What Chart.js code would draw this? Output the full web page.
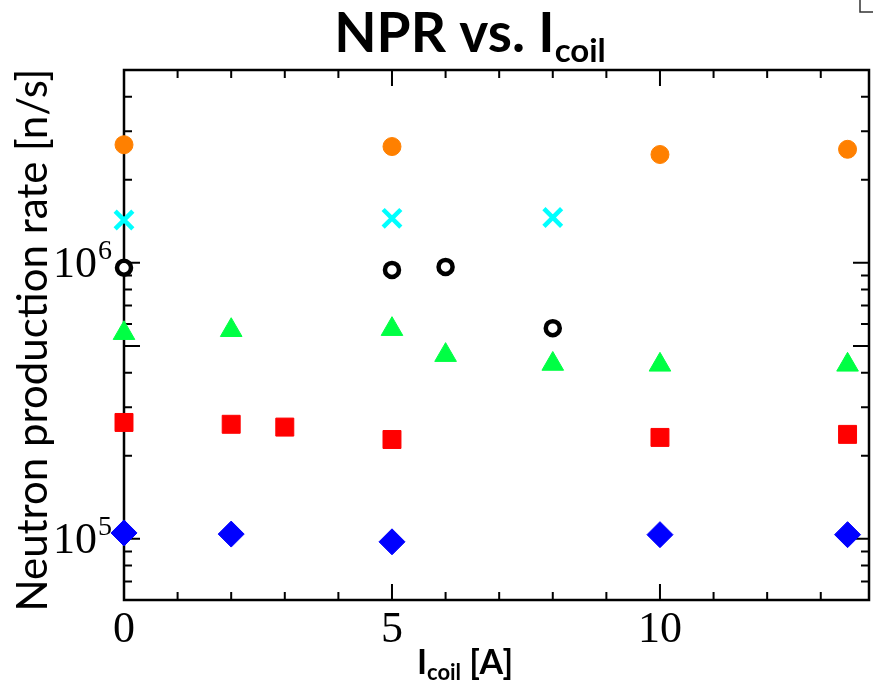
<!DOCTYPE html>
<html>
<head>
<meta charset="utf-8">
<title>NPR vs. Icoil</title>
<script src="https://cdn.jsdelivr.net/npm/chart.js@4.4.1/dist/chart.umd.min.js"></script>
<style>
    html, body { margin: 0; padding: 0; background: #fff; }
    canvas { display: block; }
</style>
</head>
<body>
<canvas id="npr" width="873" height="682"></canvas>
<script>
"use strict";

// coil current [A] and neutron production rate [n/s], one pair of arrays per series
const orangeX = [0, 5, 10, 13.5];
const orangeY = [2.68e6, 2.64e6, 2.47e6, 2.58e6];
const cyanX = [0, 5, 8];
const cyanY = [1.43e6, 1.45e6, 1.46e6];
const blackX = [0, 5, 6, 8];
const blackY = [0.96e6, 0.943e6, 0.967e6, 5.8e5];
const greenX = [0, 2, 5, 6, 8, 10, 13.5];
const greenY = [5.56e5, 5.70e5, 5.75e5, 4.63e5, 4.30e5, 4.27e5, 4.27e5];
const redX = [0, 2, 3, 5, 10, 13.5];
const redY = [2.64e5, 2.60e5, 2.54e5, 2.29e5, 2.33e5, 2.39e5];
const blueX = [0, 2, 5, 10, 13.5];
const blueY = [1.05e5, 1.04e5, 0.975e5, 1.035e5, 1.035e5];

// axis ranges and ticks
const xRange = [0, 13.9];
const yRange = [6e4, 5e6];
const xMajor = [0, 5, 10];
const xMinor = [1, 2, 3, 4, 6, 7, 8, 9, 11, 12, 13];
const xLabels = ["0", "5", "10"];
const yMajor = [1e5, 5e5, 1e6];
const yMinor = [7e4, 8e4, 9e4, 2e5, 3e5, 4e5, 6e5, 7e5, 8e5, 9e5, 2e6, 3e6, 4e6];
const yLabelValues = [1e5, 1e6];
const yLabelExp = ["5", "6"];

const SANS = "Lato, 'Noto Sans', sans-serif";
const SERIF = "'Liberation Serif', 'DejaVu Serif', serif";

function pairs(xs, ys) {
    return xs.map(function(x, i) { return { x: x, y: ys[i] }; });
}

function series(label, xs, ys, style) {
    return Object.assign({
        label: label,
        data: pairs(xs, ys),
        showLine: false,
        clip: false,
        pointBorderWidth: 1
    }, style);
}

// draws a string made of runs [text, font, dy] starting at x
function drawRuns(ctx, runs, x, y) {
    runs.forEach(function(r) {
        ctx.font = r[1];
        ctx.fillText(r[0], x, y + r[2]);
        x += ctx.measureText(r[0]).width;
    });
}

function runsWidth(ctx, runs) {
    let w = 0;
    runs.forEach(function(r) {
        ctx.font = r[1];
        w += ctx.measureText(r[0]).width;
    });
    return w;
}

const framePlugin = {
    id: "frame",
    beforeDatasetsDraw(chart) {
        const ctx = chart.ctx;
        const a = chart.chartArea;
        const xs = chart.scales.x;
        const ys = chart.scales.y;
        ctx.save();
        ctx.strokeStyle = "#000";
        ctx.lineWidth = 2;
        ctx.beginPath();
        function xt(v, len) {
            const px = xs.getPixelForValue(v);
            ctx.moveTo(px, a.bottom); ctx.lineTo(px, a.bottom - len);
            ctx.moveTo(px, a.top); ctx.lineTo(px, a.top + len);
        }
        function yt(v, len) {
            const py = ys.getPixelForValue(v);
            ctx.moveTo(a.left, py); ctx.lineTo(a.left + len, py);
            ctx.moveTo(a.right, py); ctx.lineTo(a.right - len, py);
        }
        xMajor.forEach(function(v) { xt(v, 16); });
        xMinor.forEach(function(v) { xt(v, 8); });
        yMajor.forEach(function(v) { yt(v, 16); });
        yMinor.forEach(function(v) { yt(v, 8); });
        ctx.stroke();
        ctx.lineWidth = 2.5;
        ctx.strokeRect(a.left, a.top, a.right - a.left, a.bottom - a.top);
        ctx.restore();
    },
    afterDraw(chart) {
        const ctx = chart.ctx;
        const xs = chart.scales.x;
        const ys = chart.scales.y;
        ctx.save();
        ctx.fillStyle = "#000";
        ctx.textBaseline = "alphabetic";

        // tick labels
        ctx.font = "44px " + SERIF;
        ctx.textAlign = "center";
        xMajor.forEach(function(v, i) {
            ctx.fillText(xLabels[i], xs.getPixelForValue(v), 642);
        });
        yLabelValues.forEach(function(v, i) {
            const py = ys.getPixelForValue(v);
            ctx.textAlign = "right";
            ctx.font = "44px " + SERIF;
            ctx.fillText("10", 97, py + 14);
            ctx.textAlign = "left";
            ctx.font = "28px " + SERIF;
            ctx.fillText(yLabelExp[i], 98, py - 4);
        });

        // title
        ctx.textAlign = "left";
        const title = [["NPR vs. I", "bold 55px " + SANS, 0], ["coil", "bold 33px " + SANS, 10]];
        drawRuns(ctx, title, 470 - runsWidth(ctx, title) / 2, 52);

        // x axis title
        const xTitle = [["I", "bold 34px " + SANS, 0], ["coil", "bold 22px " + SANS, 6], [" [A]", "bold 34px " + SANS, 0]];
        drawRuns(ctx, xTitle, 465 - runsWidth(ctx, xTitle) / 2, 674);

        // y axis title
        ctx.translate(47, 340);
        ctx.rotate(-Math.PI / 2);
        ctx.textAlign = "center";
        ctx.font = "42px " + SANS;
        ctx.fillText("Neutron production rate [n/s]", 0, 0);
        ctx.restore();

        // corner of the box at the top right
        ctx.save();
        ctx.strokeStyle = "#333";
        ctx.lineWidth = 1.5;
        ctx.beginPath();
        ctx.moveTo(860, 0);
        ctx.lineTo(860, 12);
        ctx.lineTo(873, 12);
        ctx.stroke();
        ctx.restore();
    }
};

new Chart(document.getElementById("npr"), {
    type: "scatter",
    data: {
        datasets: [
            series("blue", blueX, blueY, {
                pointStyle: "rectRot", pointRadius: 13,
                pointBackgroundColor: "#0000ff", pointBorderColor: "#0000ff"
            }),
            series("red", redX, redY, {
                pointStyle: "rect", pointRadius: 12.7,
                pointBackgroundColor: "#ff0000", pointBorderColor: "#ff0000"
            }),
            series("green", greenX, greenY, {
                pointStyle: "triangle", pointRadius: 12.5,
                pointBackgroundColor: "#00ff44", pointBorderColor: "#00ff44"
            }),
            series("black", blackX, blackY, {
                pointStyle: "circle", pointRadius: 7, pointBorderWidth: 4.5,
                pointBackgroundColor: "#ffffff", pointBorderColor: "#000000"
            }),
            series("cyan", cyanX, cyanY, {
                pointStyle: "crossRot", pointRadius: 12.5, pointBorderWidth: 4.5,
                pointBackgroundColor: "#00ffff", pointBorderColor: "#00ffff"
            }),
            series("orange", orangeX, orangeY, {
                pointStyle: "circle", pointRadius: 9,
                pointBackgroundColor: "#ff8000", pointBorderColor: "#ff8000"
            })
        ]
    },
    options: {
        responsive: false,
        animation: false,
        events: [],
        layout: {
            autoPadding: false,
            padding: { left: 124, top: 70, right: 4, bottom: 82 }
        },
        plugins: {
            legend: { display: false },
            tooltip: { enabled: false },
            title: { display: false }
        },
        scales: {
            x: { type: "linear", display: false, min: xRange[0], max: xRange[1] },
            y: { type: "logarithmic", display: false, min: yRange[0], max: yRange[1] }
        }
    },
    plugins: [framePlugin]
});
</script>
</body>
</html>
